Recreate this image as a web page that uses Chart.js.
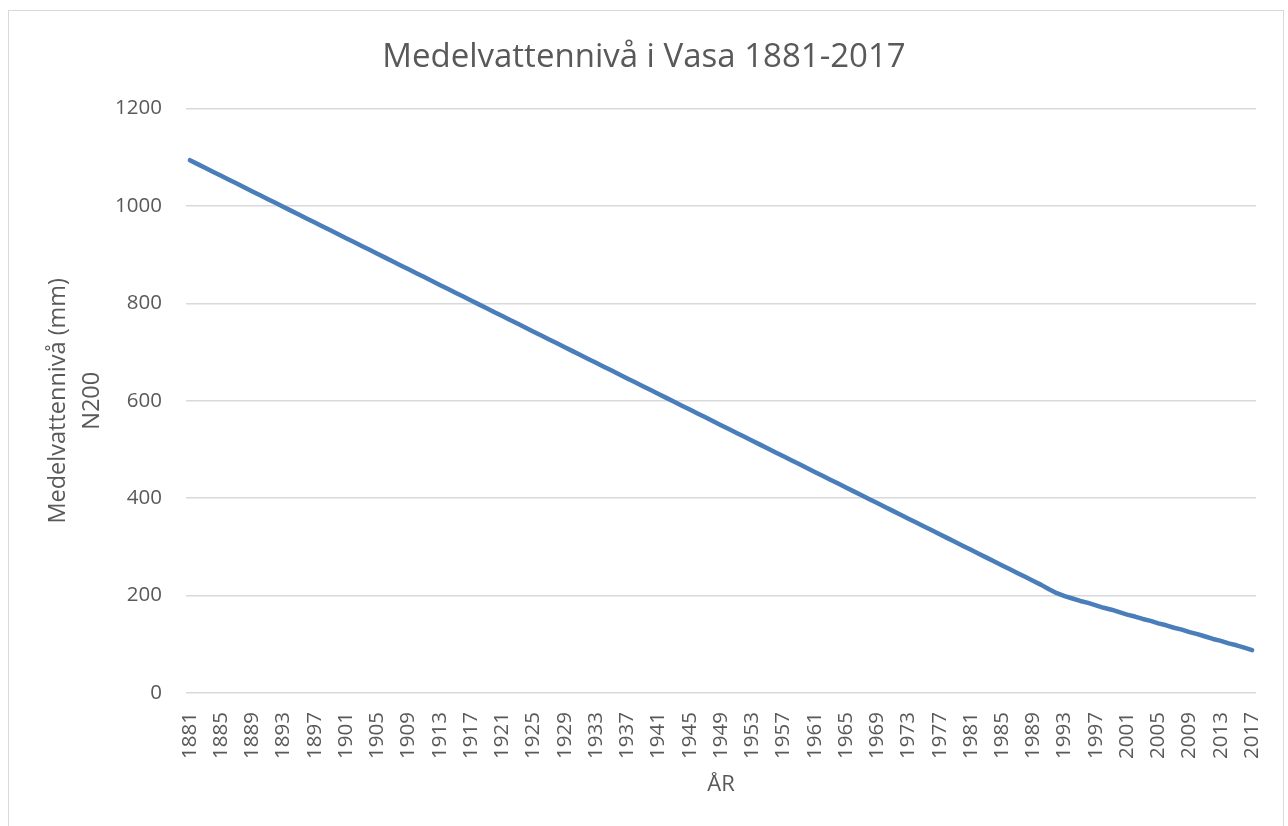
<!DOCTYPE html>
<html>
<head>
<meta charset="utf-8">
<script src="https://cdn.jsdelivr.net/npm/chart.js@4"></script>
<style>
    html, body { margin: 0; padding: 0; background: #ffffff; }
    #wrap { position: relative; width: 1288px; height: 826px; overflow: hidden; }
    #frame {
        position: absolute; left: 8px; top: 10px; width: 1276px; height: 840px;
        border: 1px solid #d9d9d9; box-sizing: border-box;
    }
    #levelChart { position: absolute; left: 0; top: 0; }
</style>
</head>
<body>
<div id="wrap">
    <div id="frame"></div>
    <canvas id="levelChart" width="1288" height="826"></canvas>
</div>
<script>
// Years on the category axis
const years = [
    1881, 1882, 1883, 1884, 1885, 1886, 1887, 1888, 1889, 1890,
    1891, 1892, 1893, 1894, 1895, 1896, 1897, 1898, 1899, 1900,
    1901, 1902, 1903, 1904, 1905, 1906, 1907, 1908, 1909, 1910,
    1911, 1912, 1913, 1914, 1915, 1916, 1917, 1918, 1919, 1920,
    1921, 1922, 1923, 1924, 1925, 1926, 1927, 1928, 1929, 1930,
    1931, 1932, 1933, 1934, 1935, 1936, 1937, 1938, 1939, 1940,
    1941, 1942, 1943, 1944, 1945, 1946, 1947, 1948, 1949, 1950,
    1951, 1952, 1953, 1954, 1955, 1956, 1957, 1958, 1959, 1960,
    1961, 1962, 1963, 1964, 1965, 1966, 1967, 1968, 1969, 1970,
    1971, 1972, 1973, 1974, 1975, 1976, 1977, 1978, 1979, 1980,
    1981, 1982, 1983, 1984, 1985, 1986, 1987, 1988, 1989, 1990,
    1991, 1992, 1993, 1994, 1995, 1996, 1997, 1998, 1999, 2000,
    2001, 2002, 2003, 2004, 2005, 2006, 2007, 2008, 2009, 2010,
    2011, 2012, 2013, 2014, 2015, 2016, 2017
];

// Mean water level (mm, N200)
const meanLevel = [
    1094, 1086, 1078, 1070, 1062, 1054, 1046, 1038, 1030, 1022,
    1014, 1006, 998, 990, 982, 974, 966, 958, 950, 942,
    934, 926, 918, 910, 902, 894, 886, 878, 870, 862,
    854, 846, 838, 830, 822, 814, 806, 798, 790, 782,
    774, 766, 758, 750, 742, 734, 726, 718, 710, 702,
    694, 686, 678, 670, 662, 654, 646, 638, 630, 622,
    614, 606, 598, 590, 582, 574, 566, 558, 550, 542,
    534, 526, 518, 510, 502, 494, 486, 478, 470, 462,
    454, 446, 438, 430, 422, 414, 406, 398, 390, 382,
    374, 366, 358, 350, 342, 334, 326, 318, 310, 302,
    294, 286, 278, 270, 262, 254, 246, 238, 230, 222,
    213, 205, 199, 194, 189, 185, 180, 175, 171, 166,
    161, 157, 152, 148, 143, 139, 134, 130, 125, 121,
    116, 111, 107, 102, 98, 93, 88
];

// Year labels printed under the axis (every fourth year)
const yearTickLabels = [
    1881, 1885, 1889, 1893, 1897, 1901, 1905, 1909, 1913, 1917,
    1921, 1925, 1929, 1933, 1937, 1941, 1945, 1949, 1953, 1957,
    1961, 1965, 1969, 1973, 1977, 1981, 1985, 1989, 1993, 1997,
    2001, 2005, 2009, 2013, 2017
];

const levelTicks = [0, 200, 400, 600, 800, 1000, 1200];

const textColor = '#595959';
const gridColor = '#d9d9d9';
const fontFamily = '"Open Sans", "Noto Sans", sans-serif';

Chart.defaults.font.family = fontFamily;
Chart.defaults.color = textColor;

const ctx = document.getElementById('levelChart');

new Chart(ctx, {
    type: 'line',
    data: {
        labels: years.map(String),
        datasets: [{
            label: 'Medelvattennivå',
            data: meanLevel,
            borderColor: '#4a7ebb',
            borderWidth: 4.5,
            borderCapStyle: 'round',
            borderJoinStyle: 'round',
            pointRadius: 0,
            tension: 0,
            fill: false
        }]
    },
    options: {
        responsive: false,
        animation: false,
        layout: {
            padding: 0
        },
        scales: {
            x: {
                type: 'category',
                offset: true,
                grid: { display: false, drawTicks: false },
                border: { display: false },
                ticks: {
                    autoSkip: false,
                    minRotation: 90,
                    maxRotation: 90,
                    padding: 19,
                    font: { size: 20.5 },
                    color: textColor,
                    callback: function (value, index) {
                        const year = years[index];
                        return yearTickLabels.includes(year) ? String(year) : '';
                    }
                },
                title: {
                    display: true,
                    text: 'ÅR',
                    color: textColor,
                    font: { size: 22 },
                    padding: { top: 0, bottom: 28 }
                },
                afterFit: function (scale) {
                    scale.height = 826 - 693;
                    scale.paddingLeft = 0;
                    scale.paddingRight = 0;
                }
            },
            y: {
                min: 0,
                max: 1200,
                grid: { color: gridColor, lineWidth: 1.5, drawTicks: false },
                border: { display: false },
                afterBuildTicks: function (scale) {
                    scale.ticks = levelTicks.map(v => ({ value: v }));
                },
                ticks: {
                    padding: 24,
                    font: { size: 20.5 },
                    color: textColor,
                    callback: function (value) {
                        return String(value);
                    }
                },
                title: {
                    display: true,
                    text: ['Medelvattennivå (mm)', 'N200'],
                    color: textColor,
                    font: { size: 23.5, lineHeight: 1.45 },
                    padding: { top: 41, bottom: 0 }
                },
                afterFit: function (scale) {
                    scale.width = 186;
                }
            },
            // empty right-hand spacer so the title stays centred on the page
            spacer: {
                type: 'linear',
                position: 'right',
                display: true,
                grid: { display: false, drawTicks: false },
                border: { display: false },
                ticks: { display: false },
                afterFit: function (scale) {
                    scale.width = 32;
                }
            }
        },
        plugins: {
            legend: { display: false },
            tooltip: { enabled: false },
            title: {
                display: true,
                text: 'Medelvattennivå i Vasa 1881-2017',
                color: textColor,
                font: { size: 33, weight: 'normal' },
                padding: { top: 38, bottom: 31 }
            }
        }
    }
});
</script>
</body>
</html>
